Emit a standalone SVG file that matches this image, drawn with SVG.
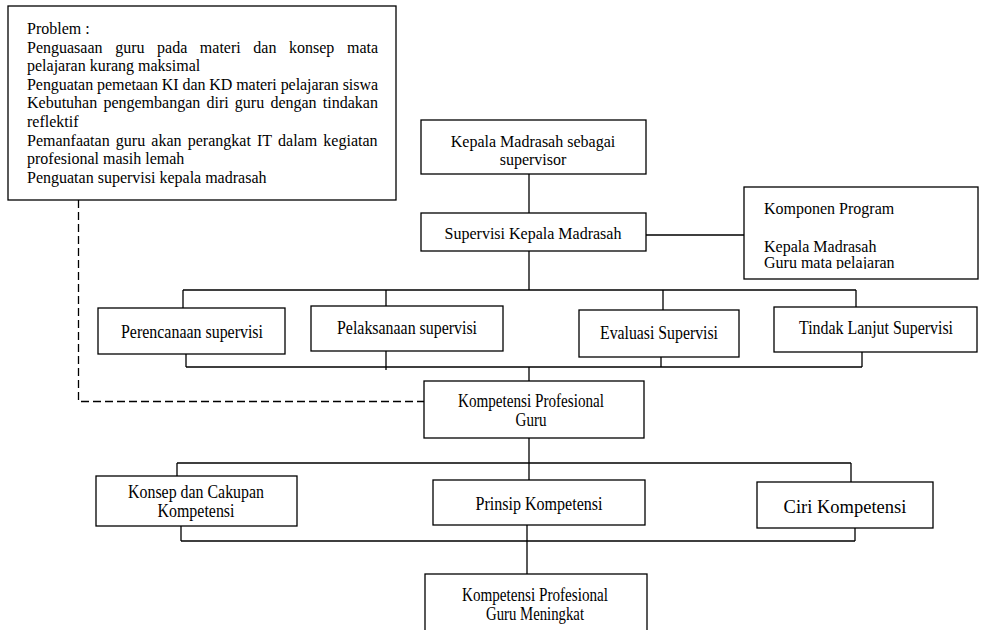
<svg xmlns="http://www.w3.org/2000/svg" width="984" height="630" viewBox="0 0 984 630">
<style>
.box{fill:#fff;stroke:#000;stroke-width:1.3}
.t{font-family:"Liberation Serif","Times New Roman",serif;font-size:16px;fill:#000}
.c{text-anchor:middle}
.n{font-family:"Liberation Serif","Times New Roman",serif;font-size:18px;fill:#000;text-anchor:middle}
.ln{fill:none;stroke:#000;stroke-width:1.3}
.dash{fill:none;stroke:#000;stroke-width:1.3;stroke-dasharray:8 4}
</style>
<defs>
<clipPath id="clipK"><rect x="744" y="187" width="234" height="82"/></clipPath>
<clipPath id="clipC"><rect x="96" y="476" width="201" height="45"/></clipPath>
</defs>
<rect width="984" height="630" fill="#fff"/>
<g id="connectors">
<path class="dash" d="M78.5,200 V401.5 H424"/>
<path class="ln" d="M529,174 V213 M529,251 V290 M646,235 H744"/>
<path class="ln" d="M183,290 H856 M183,290 V308 M386,290 V306 M663,290 V310 M856,290 V307"/>
<path class="ln" d="M186,367 H862 M186,354 V367 M386,351 V370 M661,357 V367 M862,352 V367 M529,367 V381"/>
<path class="ln" d="M529,438 V480 M177,463 H851 M177,463 V476 M851,463 V482"/>
<path class="ln" d="M181,541 H855 M181,526 V541 M855,528 V541 M527,525 V574"/>
</g>
<g id="problem">
<rect class="box" x="8" y="6" width="388" height="194"/>
<text class="t" x="27" y="34">Problem :</text>
<text class="t" x="27" y="52.6" word-spacing="8.6">Penguasaan guru pada materi dan konsep mata</text>
<text class="t" x="27" y="71.2">pelajaran kurang maksimal</text>
<text class="t" x="27" y="89.8" textLength="351" lengthAdjust="spacing">Penguatan pemetaan KI dan KD materi pelajaran siswa</text>
<text class="t" x="27" y="108.4" word-spacing="2.2">Kebutuhan pengembangan diri guru dengan tindakan</text>
<text class="t" x="27" y="127">reflektif</text>
<text class="t" x="27" y="145.6" word-spacing="2.2">Pemanfaatan guru akan perangkat IT dalam kegiatan</text>
<text class="t" x="27" y="164.2">profesional masih lemah</text>
<text class="t" x="27" y="182.8">Penguatan supervisi kepala madrasah</text>
</g>
<g id="kepala">
<rect class="box" x="421" y="120" width="225" height="54"/>
<text class="t c" x="533" y="147">Kepala Madrasah sebagai</text>
<text class="t c" x="533" y="165">supervisor</text>
</g>
<g id="supervisi">
<rect class="box" x="421" y="213" width="225" height="38"/>
<text class="t c" x="533" y="238.5">Supervisi Kepala Madrasah</text>
</g>
<g id="komponen">
<rect class="box" x="744" y="187" width="234" height="92"/>
<g clip-path="url(#clipK)">
<text class="t" x="764" y="214">Komponen Program</text>
<text class="t" x="764" y="252">Kepala Madrasah</text>
<text class="t" x="764" y="268">Guru mata pelajaran</text>
</g>
</g>
<g id="perencanaan">
<rect class="box" x="98" y="308" width="187" height="46"/>
<text class="n" x="192" y="338" textLength="142" lengthAdjust="spacingAndGlyphs">Perencanaan supervisi</text>
</g>
<g id="pelaksanaan">
<rect class="box" x="311" y="306" width="192" height="45"/>
<text class="n" x="407" y="334" textLength="140" lengthAdjust="spacingAndGlyphs">Pelaksanaan supervisi</text>
</g>
<g id="evaluasi">
<rect class="box" x="579" y="310" width="160" height="47"/>
<text class="n" x="659" y="339" textLength="118" lengthAdjust="spacingAndGlyphs">Evaluasi Supervisi</text>
</g>
<g id="tindak">
<rect class="box" x="774" y="307" width="203" height="45"/>
<text class="n" x="876" y="334" textLength="154" lengthAdjust="spacingAndGlyphs">Tindak Lanjut Supervisi</text>
</g>
<g id="kompetensi">
<rect class="box" x="424" y="381" width="220" height="57"/>
<text class="n" x="531" y="407" textLength="146" lengthAdjust="spacingAndGlyphs">Kompetensi Profesional</text>
<text class="n" x="531" y="426" textLength="31" lengthAdjust="spacingAndGlyphs">Guru</text>
</g>
<g id="konsep">
<rect class="box" x="96" y="476" width="201" height="50"/>
<g clip-path="url(#clipC)">
<text class="n" x="196" y="498" textLength="136" lengthAdjust="spacingAndGlyphs">Konsep dan Cakupan</text>
<text class="n" x="196" y="517" textLength="77" lengthAdjust="spacingAndGlyphs">Kompetensi</text>
</g>
</g>
<g id="prinsip">
<rect class="box" x="433" y="480" width="212" height="45"/>
<text class="n" x="539" y="509.5" textLength="127" lengthAdjust="spacingAndGlyphs">Prinsip Kompetensi</text>
</g>
<g id="ciri">
<rect class="box" x="757" y="482" width="176" height="46"/>
<text class="t c" x="845" y="513" style="font-size:18.5px">Ciri Kompetensi</text>
</g>
<g id="meningkat">
<rect class="box" x="425" y="574" width="222" height="80"/>
<text class="n" x="535" y="601" textLength="146" lengthAdjust="spacingAndGlyphs">Kompetensi Profesional</text>
<text class="n" x="535" y="620" textLength="98" lengthAdjust="spacingAndGlyphs">Guru Meningkat</text>
</g>
</svg>
